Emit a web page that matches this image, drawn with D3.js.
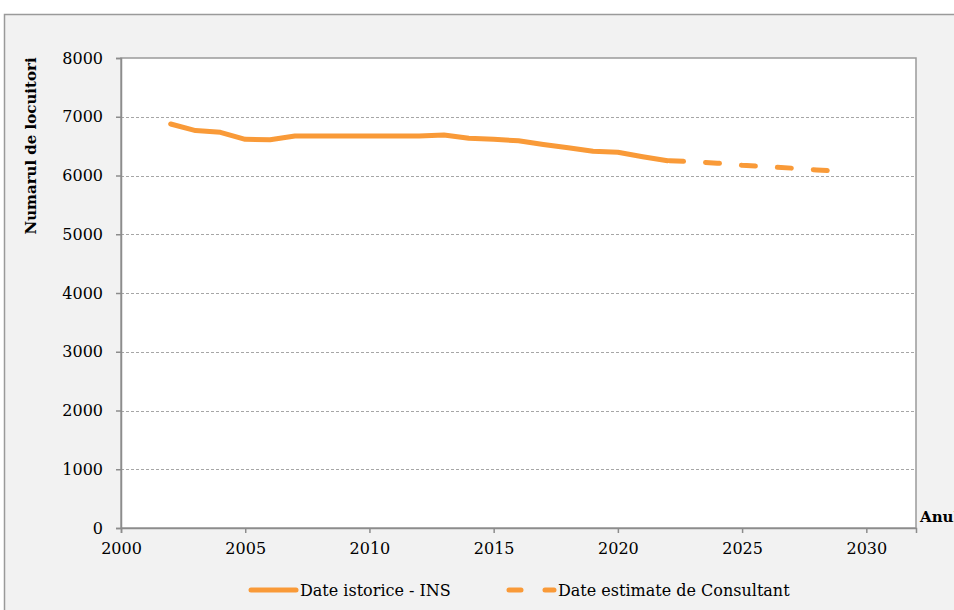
<!DOCTYPE html>
<html>
<head>
<meta charset="utf-8">
<script src="https://cdn.jsdelivr.net/npm/d3@7"></script>
<style>
  html, body { margin: 0; padding: 0; background: #ffffff; }
  svg { display: block; }
  text { font-family: "DejaVu Serif", "Liberation Serif", serif; fill: #000; }
</style>
</head>
<body>
<svg id="chart" width="954" height="610"></svg>
<script>
// Population series (number of inhabitants per year)
const historicYears = [2002, 2003, 2004, 2005, 2006, 2007, 2008, 2009, 2010, 2011, 2012, 2013, 2014, 2015, 2016, 2017, 2018, 2019, 2020, 2021, 2022];
const historicValues = [6877, 6765, 6735, 6616, 6610, 6672, 6672, 6672, 6672, 6672, 6672, 6690, 6633, 6616, 6590, 6527, 6473, 6412, 6395, 6320, 6252];
const estimateYears = [2022, 2023, 2024, 2025, 2026, 2027, 2028, 2029];
const estimateValues = [6252, 6235, 6210, 6175, 6150, 6125, 6095, 6070];

const yTicks = [0, 1000, 2000, 3000, 4000, 5000, 6000, 7000, 8000];
const xTicks = [2000, 2005, 2010, 2015, 2020, 2025, 2030];

const seriesNames = ["Date istorice - INS", "Date estimate de Consultant"];
const yTitle = "Numarul de locuitori";
const xTitle = "Anul";

const orange = "#f99a38";
const svg = d3.select("#chart");

// chart area background and frame
svg.append("rect")
  .attr("x", 4.5).attr("y", 14.5)
  .attr("width", 1000).attr("height", 700)
  .attr("fill", "#f2f2f2")
  .attr("stroke", "#9a9a9a")
  .attr("stroke-width", 1.5);

const plot = { left: 121, right: 916, top: 58, bottom: 528 };

const x = d3.scaleLinear().domain([2000, 2032]).range([plot.left, plot.right]);
const y = d3.scaleLinear().domain([0, 8000]).range([plot.bottom, plot.top]);

// plot area
svg.append("rect")
  .attr("x", plot.left).attr("y", plot.top)
  .attr("width", plot.right - plot.left).attr("height", plot.bottom - plot.top)
  .attr("fill", "#ffffff")
  .attr("stroke", "#9a9a9a")
  .attr("stroke-width", 1.5);

// horizontal gridlines
svg.append("g")
  .selectAll("line")
  .data(yTicks.filter(v => v > 0 && v < 8000))
  .join("line")
  .attr("x1", plot.left).attr("x2", plot.right)
  .attr("y1", d => Math.round(y(d)) + 0.5).attr("y2", d => Math.round(y(d)) + 0.5)
  .attr("stroke", "#a6a6a6")
  .attr("stroke-width", 1)
  .attr("stroke-dasharray", "3,2");

// y axis
const yAxis = svg.append("g")
  .attr("transform", `translate(${plot.left},0)`)
  .call(d3.axisLeft(y).tickValues(yTicks).tickSize(5).tickPadding(13).tickFormat(d3.format("d")));
yAxis.select(".domain").attr("stroke", "#8c8c8c").attr("stroke-width", 1.5);
yAxis.selectAll(".tick line").attr("stroke", "#8c8c8c").attr("stroke-width", 1.5);
yAxis.selectAll(".tick text")
  .attr("font-family", "DejaVu Serif")
  .attr("font-size", 16)
  .attr("fill", "#000");

// x axis
const xAxis = svg.append("g")
  .attr("transform", `translate(0,${plot.bottom})`)
  .call(d3.axisBottom(x).tickValues(xTicks).tickSize(5).tickPadding(10).tickFormat(d3.format("d")));
xAxis.select(".domain").attr("stroke", "#8c8c8c").attr("stroke-width", 1.5);
xAxis.selectAll(".tick line").attr("stroke", "#8c8c8c").attr("stroke-width", 1.5);
xAxis.selectAll(".tick text")
  .attr("font-family", "DejaVu Serif")
  .attr("font-size", 16)
  .attr("fill", "#000");

// axis titles
svg.append("text")
  .attr("transform", "translate(36,146) rotate(-90)")
  .attr("text-anchor", "middle")
  .attr("font-weight", "bold")
  .attr("font-size", 15)
  .text(yTitle);

svg.append("text")
  .attr("x", 920).attr("y", 522)
  .attr("font-weight", "bold")
  .attr("font-size", 15)
  .text(xTitle);

// series lines
const line = d3.line()
  .x(d => x(d[0]))
  .y(d => y(d[1]));

svg.append("path")
  .datum(historicYears.map((yr, i) => [yr, historicValues[i]]))
  .attr("d", line)
  .attr("fill", "none")
  .attr("stroke", orange)
  .attr("stroke-width", 5)
  .attr("stroke-linecap", "round")
  .attr("stroke-linejoin", "round");

svg.append("path")
  .datum(estimateYears.map((yr, i) => [yr, estimateValues[i]]))
  .attr("d", line)
  .attr("fill", "none")
  .attr("stroke", orange)
  .attr("stroke-width", 5)
  .attr("stroke-linecap", "round")
  .attr("stroke-linejoin", "round")
  .attr("stroke-dasharray", "14,22")
  .attr("stroke-dashoffset", -2);

// legend
const legend = svg.append("g");
legend.append("line")
  .attr("x1", 251).attr("x2", 296).attr("y1", 590).attr("y2", 590)
  .attr("stroke", orange).attr("stroke-width", 5).attr("stroke-linecap", "round");
legend.append("text")
  .attr("x", 300).attr("y", 596)
  .attr("font-size", 16)
  .text(seriesNames[0]);
legend.append("line")
  .attr("x1", 509).attr("x2", 554).attr("y1", 590).attr("y2", 590)
  .attr("stroke", orange).attr("stroke-width", 5).attr("stroke-linecap", "round")
  .attr("stroke-dasharray", "12,24");
legend.append("text")
  .attr("x", 558).attr("y", 596)
  .attr("font-size", 16)
  .text(seriesNames[1]);
</script>
</body>
</html>
